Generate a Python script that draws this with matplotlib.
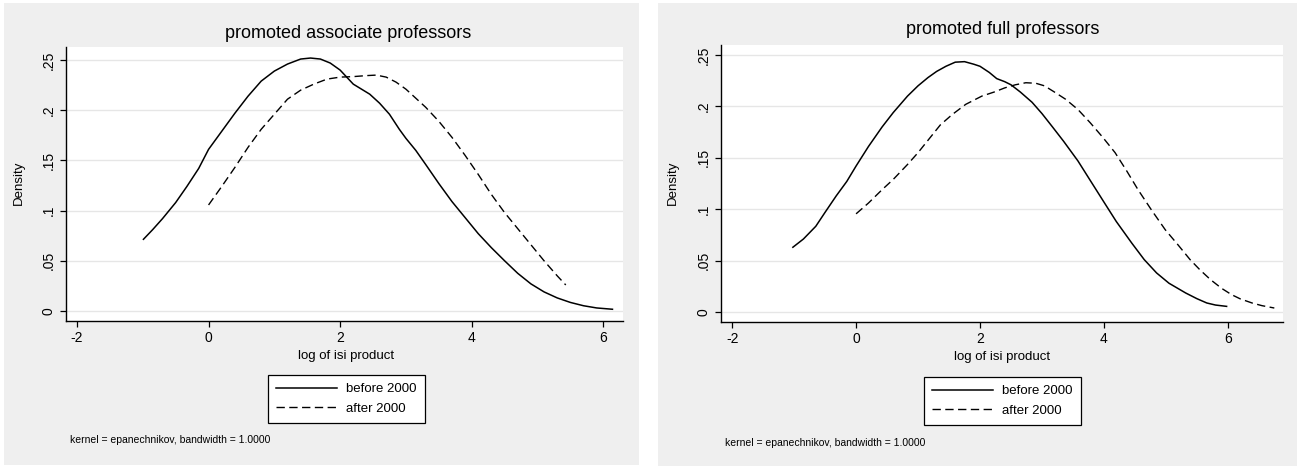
import matplotlib
matplotlib.use("Agg")
import matplotlib.pyplot as plt
from matplotlib.patches import Rectangle

plt.rcParams['font.family'] = ['Liberation Sans', 'DejaVu Sans']
plt.rcParams['axes.unicode_minus'] = False

# kernel density estimates, read per panel
assoc_before_x = [-0.99, -0.85, -0.7, -0.5, -0.33, -0.15, 0.0, 0.2, 0.4, 0.6, 0.8, 1.0, 1.2, 1.4, 1.55, 1.7,
                  1.85, 2.0, 2.1, 2.2, 2.3, 2.45, 2.6, 2.75, 2.9, 3.0, 3.15, 3.3, 3.5, 3.7, 3.9, 4.1, 4.3,
                  4.5, 4.7, 4.9, 5.1, 5.3, 5.5, 5.7, 5.9, 6.14]
assoc_before_y = [0.0714, 0.081, 0.092, 0.108, 0.124, 0.142, 0.161, 0.179, 0.197, 0.214, 0.229, 0.239, 0.246,
                  0.251, 0.252, 0.251, 0.247, 0.240, 0.233, 0.226, 0.222, 0.216, 0.207, 0.196, 0.181, 0.172,
                  0.160, 0.146, 0.127, 0.109, 0.093, 0.077, 0.063, 0.050, 0.0375, 0.027, 0.019, 0.013,
                  0.0085, 0.0052, 0.003, 0.0017]
assoc_after_x = [0.0, 0.2, 0.4, 0.6, 0.8, 1.0, 1.2, 1.4, 1.6, 1.8, 2.0, 2.2, 2.4, 2.55, 2.7, 2.85, 3.0, 3.15,
                 3.3, 3.5, 3.7, 3.9, 4.1, 4.3, 4.5, 4.7, 4.9, 5.1, 5.3, 5.43]
assoc_after_y = [0.1056, 0.124, 0.143, 0.163, 0.181, 0.196, 0.211, 0.220, 0.226, 0.231, 0.233, 0.2335, 0.2345,
                 0.235, 0.233, 0.228, 0.221, 0.212, 0.203, 0.189, 0.173, 0.155, 0.136, 0.116, 0.098, 0.082,
                 0.066, 0.050, 0.035, 0.0259]

full_before_x = [-1.02, -0.85, -0.65, -0.5, -0.32, -0.15, 0.0, 0.2, 0.42, 0.6, 0.83, 1.0, 1.16, 1.3, 1.45,
                 1.6, 1.75, 1.9, 2.0, 2.15, 2.27, 2.4, 2.5, 2.65, 2.84, 3.0, 3.17, 3.35, 3.58, 3.8, 4.01,
                 4.2, 4.45, 4.65, 4.85, 5.05, 5.32, 5.5, 5.66, 5.8, 5.98]
full_before_y = [0.063, 0.071, 0.0834, 0.097, 0.113, 0.127, 0.142, 0.161, 0.180, 0.194, 0.210, 0.220, 0.228,
                 0.234, 0.239, 0.243, 0.2435, 0.241, 0.239, 0.233, 0.227, 0.224, 0.221, 0.214, 0.204, 0.193,
                 0.180, 0.166, 0.147, 0.126, 0.106, 0.088, 0.067, 0.051, 0.038, 0.028, 0.0185, 0.013,
                 0.0088, 0.0068, 0.0055]
full_after_x = [0.0, 0.2, 0.42, 0.6, 0.83, 1.0, 1.2, 1.36, 1.55, 1.77, 2.03, 2.23, 2.4, 2.57, 2.74, 2.9,
                3.04, 3.2, 3.38, 3.58, 3.78, 3.98, 4.18, 4.37, 4.55, 4.77, 4.99, 5.2, 5.39, 5.55, 5.72,
                5.9, 6.06, 6.2, 6.39, 6.55, 6.75]
full_after_y = [0.0955, 0.106, 0.119, 0.129, 0.1435, 0.155, 0.170, 0.182, 0.192, 0.202, 0.210, 0.214, 0.218,
                0.221, 0.223, 0.2225, 0.220, 0.214, 0.207, 0.197, 0.184, 0.170, 0.155, 0.137, 0.119, 0.099,
                0.080, 0.065, 0.051, 0.041, 0.0315, 0.023, 0.0169, 0.0128, 0.0088, 0.0062, 0.0039]

titles = ["promoted associate professors", "promoted full professors"]
series_labels = ["before 2000", "after 2000"]
x_ticks = [-2, 0, 2, 4, 6]
y_ticks = [0, 0.05, 0.1, 0.15, 0.2, 0.25]
y_ticklabels = ["0", ".05", ".1", ".15", ".2", ".25"]
note = "kernel = epanechnikov, bandwidth = 1.0000"

W, H = 1300, 468
BG = "#efefef"

fig = plt.figure(figsize=(W / 100, H / 100), dpi=100)
fig.patch.set_facecolor("white")


def fx(px):
    return px / W


def fy(py):
    return 1 - py / H


panels = [
    dict(bg=(4, 3, 639, 465), ax=(66, 47, 623, 321), xlim=(-2.167, 6.30), ylim=(-0.0100, 0.263),
         title=(348, 33), xlab=(346, 356), ylab=(19, 183), note=(70, 440), leg=(346.5, 399),
         data=(assoc_before_x, assoc_before_y, assoc_after_x, assoc_after_y), title_txt=titles[0]),
    dict(bg=(658, 3, 1297, 466), ax=(721, 45, 1283, 322), xlim=(-2.18, 6.89), ylim=(-0.0097, 0.2597),
         title=(1003, 30), xlab=(1002, 357), ylab=(673, 183), note=(725, 443), leg=(1002.5, 401),
         data=(full_before_x, full_before_y, full_after_x, full_after_y), title_txt=titles[1]),
]

for p in panels:
    x0, y0, x1, y1 = p["bg"]
    fig.patches.append(Rectangle((fx(x0), fy(y1)), fx(x1 - x0), (y1 - y0) / H,
                                 transform=fig.transFigure, facecolor=BG, edgecolor="none", zorder=-5))

    a0, b0, a1, b1 = p["ax"]
    ax = fig.add_axes([fx(a0), fy(b1), fx(a1 - a0), (b1 - b0) / H], zorder=2)
    ax.set_facecolor("white")
    bx, by, ax_x, ay = p["data"]
    l1, = ax.plot(bx, by, color="black", lw=1.1, solid_joinstyle="round")
    l2, = ax.plot(ax_x, ay, color="black", lw=1.0, dashes=(6, 3.2))
    ax.set_xlim(*p["xlim"])
    ax.set_ylim(*p["ylim"])
    ax.set_xticks(x_ticks)
    ax.set_yticks(y_ticks)
    ax.set_yticklabels(y_ticklabels, rotation=90, va="center")
    ax.yaxis.grid(True, color="#e6e6e6", lw=1.0)
    ax.set_axisbelow(True)
    for s in ["top", "right"]:
        ax.spines[s].set_visible(False)
    for s in ["left", "bottom"]:
        ax.spines[s].set_linewidth(1.0)
    ax.tick_params(direction="out", length=4.5, width=0.9, labelsize=10, pad=3)

    fig.text(fx(p["title"][0]), fy(p["title"][1]), p["title_txt"], ha="center", va="center", fontsize=13)
    fig.text(fx(p["xlab"][0]), fy(p["xlab"][1]), "log of isi product", ha="center", va="center", fontsize=9.5)
    fig.text(fx(p["ylab"][0]), fy(p["ylab"][1]), "Density", ha="center", va="center", rotation=90, fontsize=9.5)
    fig.text(fx(p["note"][0]), fy(p["note"][1]), note, ha="left", va="center", fontsize=7.5)

    leg = fig.legend([l1, l2], series_labels, loc="center",
                     bbox_to_anchor=(fx(p["leg"][0]), fy(p["leg"][1])), bbox_transform=fig.transFigure,
                     fontsize=9.5, handlelength=4.6, handletextpad=0.7, borderpad=0.6,
                     labelspacing=0.55, fancybox=False, framealpha=1)
    leg.get_frame().set_edgecolor("black")
    leg.get_frame().set_linewidth(0.9)

fig.savefig("out.png", dpi=100, facecolor=fig.get_facecolor())
